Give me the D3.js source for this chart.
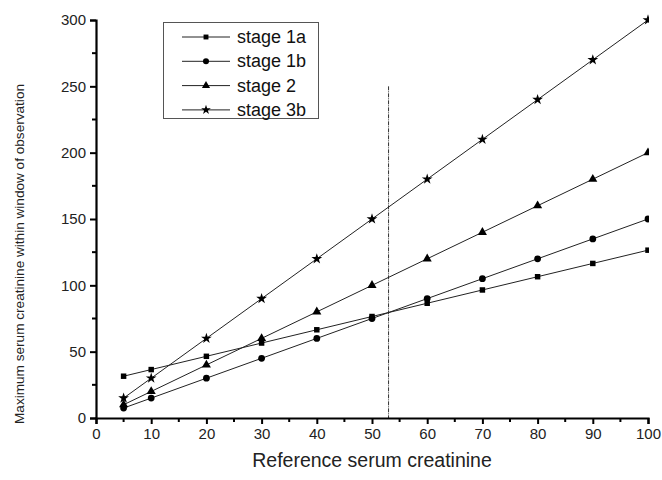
<!DOCTYPE html>
<html><head><meta charset="utf-8">
<script src="https://cdn.jsdelivr.net/npm/d3@7"></script>
<style>body{margin:0;background:#fff;} text{font-family:"Liberation Sans",Arial,sans-serif;}</style>
</head><body>
<svg id="c" width="662" height="480"></svg>
<script>
const xValues = [5, 10, 20, 30, 40, 50, 60, 70, 80, 90, 100];
const stage1a = [31.5, 36.5, 46.5, 56.5, 66.5, 76.5, 86.5, 96.5, 106.5, 116.5, 126.5];
const stage1b = [7.5, 15, 30, 45, 60, 75, 90, 105, 120, 135, 150];
const stage2  = [10, 20, 40, 60, 80, 100, 120, 140, 160, 180, 200];
const stage3b = [15, 30, 60, 90, 120, 150, 180, 210, 240, 270, 300];
const seriesNames = ["stage 1a", "stage 1b", "stage 2", "stage 3b"];
const seriesSymbols = ["square", "circle", "triangle", "star"];
const xTicks = [0, 10, 20, 30, 40, 50, 60, 70, 80, 90, 100];
const yTicks = [0, 50, 100, 150, 200, 250, 300];
const refX = 53, refTop = 250;

const svg = d3.select("#c");
const L = 96, R = 648, T = 20, B = 418;
const x = d3.scaleLinear().domain([0, 100]).range([L, R]);
const y = d3.scaleLinear().domain([0, 300]).range([B, T]);

svg.append("defs").append("clipPath").attr("id", "clip")
  .append("rect").attr("x", 0).attr("y", 0).attr("width", R + 1).attr("height", 480);

const allSeries = [stage1a, stage1b, stage2, stage3b];
const symTypes = {square: d3.symbolSquare, circle: d3.symbolCircle, triangle: d3.symbolTriangle, star: d3.symbolStar};
const symSize = {square: 30, circle: 36, triangle: 36, star: 36};

// reference dashed line
svg.append("line").attr("x1", x(refX)).attr("x2", x(refX)).attr("y1", y(refTop)).attr("y2", y(0))
  .attr("stroke", "#333").attr("stroke-width", 1).attr("stroke-dasharray", "4,1,1,1");

// lines + markers
const plot = svg.append("g").attr("clip-path", "url(#clip)");
const line = d3.line().x((d, i) => x(xValues[i])).y(d => y(d));
allSeries.forEach((s, k) => {
  plot.append("path").datum(s).attr("d", line).attr("fill", "none").attr("stroke", "#222").attr("stroke-width", 1);
  const sym = d3.symbol().type(symTypes[seriesSymbols[k]]).size(symSize[seriesSymbols[k]]);
  plot.selectAll(null).data(s).enter().append("path")
    .attr("d", sym).attr("transform", (d, i) => `translate(${x(xValues[i])},${y(d)})`).attr("fill", "#000");
});

// axes
const xAxis = svg.append("g").attr("transform", `translate(0,${B})`)
  .call(d3.axisBottom(x).tickValues(xTicks).tickSize(6).tickPadding(4).tickFormat(d3.format("d")));
const yAxis = svg.append("g").attr("transform", `translate(${L},0)`)
  .call(d3.axisLeft(y).tickValues(yTicks).tickSize(6).tickPadding(4).tickFormat(d3.format("d")));
[xAxis, yAxis].forEach(a => {
  a.select(".domain").attr("stroke-width", 2.2).attr("stroke", "#000");
  a.selectAll(".tick line").attr("stroke-width", 2).attr("stroke", "#000");
  a.selectAll(".tick text").attr("font-size", 15).attr("fill", "#222").attr("font-family", "Liberation Sans, Arial, sans-serif");
});
// minor ticks
const xMinor = xTicks.slice(0, -1).map(v => v + 5);
const yMinor = yTicks.slice(0, -1).map(v => v + 25);
svg.selectAll(null).data(xMinor).enter().append("line")
  .attr("x1", d => x(d)).attr("x2", d => x(d)).attr("y1", B).attr("y2", B + 4).attr("stroke", "#000").attr("stroke-width", 2);
svg.selectAll(null).data(yMinor).enter().append("line")
  .attr("y1", d => y(d)).attr("y2", d => y(d)).attr("x1", L).attr("x2", L - 4).attr("stroke", "#000").attr("stroke-width", 2);

// axis titles
svg.append("text").attr("x", (L + R) / 2).attr("y", 467).attr("text-anchor", "middle")
  .attr("font-size", 19.5).attr("fill", "#222").text("Reference serum creatinine");
svg.append("text").attr("transform", `translate(24,254) rotate(-90)`).attr("text-anchor", "middle")
  .attr("font-size", 13.6).attr("fill", "#222").text("Maximum serum creatinine within window of observation");

// legend
const lg = svg.append("g");
lg.append("rect").attr("x", 163.5).attr("y", 22.5).attr("width", 155).attr("height", 96)
  .attr("fill", "#fff").attr("stroke", "#555").attr("stroke-width", 1);
seriesNames.forEach((n, k) => {
  const yy = 37 + k * 24.3;
  lg.append("line").attr("x1", 182).attr("x2", 230).attr("y1", yy).attr("y2", yy).attr("stroke", "#222").attr("stroke-width", 1);
  const sym = d3.symbol().type(symTypes[seriesSymbols[k]]).size(symSize[seriesSymbols[k]] * 0.8);
  lg.append("path").attr("d", sym).attr("transform", `translate(206,${yy})`).attr("fill", "#000");
  lg.append("text").attr("x", 237).attr("y", yy + 6).attr("font-size", 18).attr("fill", "#111").text(n);
});
</script>
</body></html>
